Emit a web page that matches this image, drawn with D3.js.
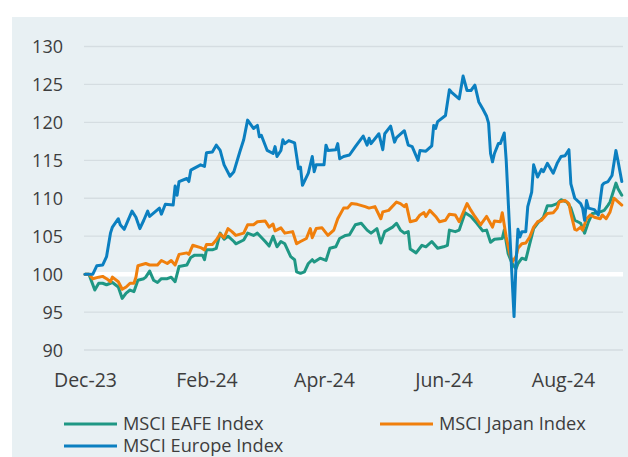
<!DOCTYPE html>
<html>
<head>
<meta charset="utf-8">
<script src="https://cdn.jsdelivr.net/npm/d3@7/dist/d3.min.js"></script>
<style>
  html, body { margin: 0; padding: 0; background: #ffffff; }
  svg { display: block; }
</style>
</head>
<body>
<svg id="chart" width="628" height="457"></svg>
<script>
// ---------------- DATA ----------------
const seriesNames = ["MSCI EAFE Index", "MSCI Japan Index", "MSCI Europe Index"];
const yTicks = [90, 95, 100, 105, 110, 115, 120, 125, 130];
const xTickDates = ["2023-12-29", "2024-02-29", "2024-04-29", "2024-06-29", "2024-08-29"];

const eafeDates = ["2023-12-29","2023-12-31","2024-01-03","2024-01-05","2024-01-07","2024-01-09","2024-01-11","2024-01-12","2024-01-15","2024-01-17","2024-01-19","2024-01-21","2024-01-23","2024-01-25","2024-01-28","2024-01-29","2024-01-31","2024-02-02","2024-02-04","2024-02-06","2024-02-09","2024-02-11","2024-02-13","2024-02-15","2024-02-19","2024-02-21","2024-02-23","2024-02-27","2024-02-28","2024-02-29","2024-03-03","2024-03-05","2024-03-07","2024-03-09","2024-03-11","2024-03-14","2024-03-15","2024-03-19","2024-03-21","2024-03-24","2024-03-26","2024-03-30","2024-04-01","2024-04-03","2024-04-05","2024-04-07","2024-04-09","2024-04-12","2024-04-14","2024-04-15","2024-04-17","2024-04-19","2024-04-21","2024-04-23","2024-04-24","2024-04-27","2024-04-30","2024-05-02","2024-05-05","2024-05-07","2024-05-10","2024-05-12","2024-05-15","2024-05-18","2024-05-21","2024-05-23","2024-05-26","2024-05-28","2024-05-30","2024-06-03","2024-06-05","2024-06-07","2024-06-09","2024-06-11","2024-06-12","2024-06-15","2024-06-18","2024-06-20","2024-06-23","2024-06-26","2024-06-29","2024-07-01","2024-07-02","2024-07-05","2024-07-07","2024-07-10","2024-07-13","2024-07-16","2024-07-19","2024-07-21","2024-07-23","2024-07-25","2024-07-29","2024-07-30","2024-08-01","2024-08-03","2024-08-05","2024-08-06","2024-08-08","2024-08-10","2024-08-12","2024-08-14","2024-08-16","2024-08-19","2024-08-21","2024-08-23","2024-08-26","2024-08-28","2024-08-31","2024-09-02","2024-09-04","2024-09-07","2024-09-09","2024-09-11","2024-09-13","2024-09-16","2024-09-19","2024-09-21","2024-09-22","2024-09-25","2024-09-26","2024-09-28"];
const eafeValues = [100,100,97.9,98.8,98.8,98.6,98.8,98.9,98.3,96.8,97.5,97.9,97.7,99.2,99.4,99.6,100.4,99.2,98.9,99.4,99.4,99.6,99.0,101.0,101.2,102.2,102.5,102.5,101.9,103.2,103.2,103.4,105.4,104.6,105.0,104.3,104.0,104.5,105.4,105.1,105.4,104.3,103.7,105.0,103.6,104.3,104.0,102.3,101.9,100.3,100.1,100.3,101.4,101.9,101.6,102.1,101.8,103.4,103.6,104.7,105.1,105.2,106.5,106.7,105.8,105.4,106.0,104.1,105.6,106.2,106.7,105.8,105.4,105.6,103.3,102.8,103.8,103.6,104.3,103.4,103.6,103.8,105.8,105.6,105.8,108.1,107.6,106.7,105.7,105.8,104.2,104.6,104.7,105.8,102.7,101.4,100.7,101.4,102.1,101.9,104.0,106.0,106.7,107.5,109.0,109.0,109.3,109.8,109.5,108.7,107.1,106.7,105.4,106.9,108.0,108.1,108.4,109.1,109.5,112.0,111.3,110.4];

const japanDates = ["2023-12-29","2023-12-31","2024-01-02","2024-01-05","2024-01-07","2024-01-09","2024-01-11","2024-01-12","2024-01-15","2024-01-17","2024-01-19","2024-01-21","2024-01-23","2024-01-24","2024-01-25","2024-01-29","2024-01-31","2024-02-04","2024-02-06","2024-02-09","2024-02-11","2024-02-13","2024-02-15","2024-02-19","2024-02-20","2024-02-22","2024-02-26","2024-02-28","2024-02-29","2024-03-03","2024-03-05","2024-03-07","2024-03-09","2024-03-11","2024-03-13","2024-03-15","2024-03-19","2024-03-21","2024-03-24","2024-03-26","2024-03-30","2024-04-01","2024-04-03","2024-04-04","2024-04-07","2024-04-09","2024-04-13","2024-04-15","2024-04-17","2024-04-20","2024-04-22","2024-04-23","2024-04-25","2024-04-28","2024-05-01","2024-05-04","2024-05-06","2024-05-09","2024-05-11","2024-05-13","2024-05-16","2024-05-20","2024-05-22","2024-05-25","2024-05-28","2024-05-29","2024-06-01","2024-06-05","2024-06-07","2024-06-09","2024-06-10","2024-06-12","2024-06-15","2024-06-17","2024-06-19","2024-06-20","2024-06-22","2024-06-25","2024-06-27","2024-06-30","2024-07-02","2024-07-05","2024-07-07","2024-07-11","2024-07-13","2024-07-15","2024-07-18","2024-07-19","2024-07-21","2024-07-24","2024-07-25","2024-07-28","2024-07-29","2024-07-31","2024-08-02","2024-08-03","2024-08-05","2024-08-06","2024-08-08","2024-08-10","2024-08-12","2024-08-14","2024-08-16","2024-08-18","2024-08-20","2024-08-21","2024-08-24","2024-08-26","2024-08-27","2024-08-30","2024-09-01","2024-09-02","2024-09-04","2024-09-05","2024-09-07","2024-09-08","2024-09-10","2024-09-12","2024-09-14","2024-09-17","2024-09-18","2024-09-20","2024-09-22","2024-09-24","2024-09-25","2024-09-28"];
const japanValues = [100,100,99.4,99.6,99.7,99.4,99.0,99.6,99.0,98.0,98.3,98.8,98.8,99.6,101.1,101.4,101.2,101.2,101.8,101.4,101.8,101.2,102.6,102.8,102.6,103.8,103.5,103.2,103.9,103.9,104.5,105.3,104.8,106.0,105.6,105.1,105.4,106.5,106.5,106.9,107.0,106.2,106.6,105.7,106.1,105.4,105.6,104.0,104.3,104.7,106.0,104.8,106.0,106.1,105.1,105.8,107.3,108.7,108.7,109.3,109.2,108.9,108.7,108.9,107.3,108.2,108.4,109.5,109.3,108.9,109.2,106.9,107.1,107.8,108.1,107.6,108.4,107.6,106.9,107.1,107.9,107.8,106.9,109.3,108.4,107.6,106.5,106.9,107.6,106.2,107.0,106.9,108.1,104.9,102.5,101.6,102.3,103.4,104.0,104.1,104.9,106.2,106.9,107.1,107.7,108.0,108.1,108.7,109.5,109.7,109.3,108.0,105.9,105.8,106.2,105.8,107.3,107.8,107.5,107.3,107.8,107.3,108.2,110.0,109.8,109.1];

const europeDates = ["2023-12-29","2024-01-02","2024-01-04","2024-01-07","2024-01-09","2024-01-11","2024-01-12","2024-01-15","2024-01-16","2024-01-18","2024-01-22","2024-01-24","2024-01-26","2024-01-28","2024-01-30","2024-01-31","2024-02-05","2024-02-06","2024-02-08","2024-02-12","2024-02-13","2024-02-14","2024-02-15","2024-02-19","2024-02-20","2024-02-21","2024-02-26","2024-02-28","2024-02-29","2024-03-03","2024-03-05","2024-03-07","2024-03-09","2024-03-12","2024-03-14","2024-03-17","2024-03-19","2024-03-21","2024-03-24","2024-03-26","2024-03-27","2024-03-28","2024-03-31","2024-04-03","2024-04-04","2024-04-05","2024-04-07","2024-04-08","2024-04-09","2024-04-11","2024-04-14","2024-04-16","2024-04-17","2024-04-18","2024-04-21","2024-04-23","2024-04-24","2024-04-25","2024-04-29","2024-04-30","2024-05-01","2024-05-05","2024-05-06","2024-05-07","2024-05-09","2024-05-12","2024-05-15","2024-05-19","2024-05-21","2024-05-22","2024-05-23","2024-05-27","2024-05-29","2024-05-30","2024-06-02","2024-06-04","2024-06-05","2024-06-09","2024-06-11","2024-06-13","2024-06-16","2024-06-17","2024-06-20","2024-06-23","2024-06-24","2024-06-25","2024-06-26","2024-06-30","2024-07-02","2024-07-03","2024-07-07","2024-07-09","2024-07-11","2024-07-13","2024-07-15","2024-07-17","2024-07-19","2024-07-21","2024-07-22","2024-07-23","2024-07-24","2024-07-25","2024-07-27","2024-07-28","2024-07-30","2024-07-31","2024-08-02","2024-08-04","2024-08-05","2024-08-06","2024-08-07","2024-08-08","2024-08-10","2024-08-11","2024-08-13","2024-08-14","2024-08-16","2024-08-18","2024-08-19","2024-08-21","2024-08-24","2024-08-26","2024-08-28","2024-08-30","2024-09-01","2024-09-02","2024-09-04","2024-09-07","2024-09-08","2024-09-09","2024-09-10","2024-09-11","2024-09-14","2024-09-16","2024-09-18","2024-09-19","2024-09-21","2024-09-22","2024-09-23","2024-09-25","2024-09-26","2024-09-28"];
const europeValues = [100,100,101.1,101.2,102.3,105.4,106.2,107.3,106.5,105.9,108.3,107.5,106.0,107.1,108.3,107.6,108.7,107.9,109.2,109.1,111.6,110.4,112.2,112.6,112.2,113.7,114.4,114.2,116.0,116.1,117.0,116.3,114.4,112.9,113.5,116.1,117.7,120.3,119.2,119.6,118.1,118.3,116.3,115.9,116.8,115.5,116.3,117.7,117.2,117.6,117.3,113.9,114.1,111.7,113.3,115.5,113.5,114.4,114.4,117.0,116.3,116.4,117.2,115.2,115.5,115.7,116.8,118.2,117.0,117.9,117.2,118.5,116.4,118.5,119.5,117.4,118.0,118.9,117.0,116.8,115.0,116.3,116.2,116.9,119.6,119.2,120.1,120.9,124.3,124.0,123.1,126.1,124.2,124.2,124.9,122.7,121.8,120.8,119.9,115.9,114.8,115.9,117.2,117.2,118.6,115.0,104.5,94.4,101.4,105.9,104.9,105.6,105.6,108.9,110.8,114.4,112.8,113.8,113.5,114.6,113.3,114.6,115.5,115.6,116.4,111.9,110.0,109.3,108.7,107.1,109.7,108.7,108.5,107.8,111.7,112.0,112.2,112.6,113.0,116.3,115.0,112.2];

const seriesColors = ["#1f9784", "#f07f0c", "#0b7fc0"];

// ---------------- CHART ----------------
const svg = d3.select("#chart");
const W = 628, H = 457;
const parse = d3.timeParse("%Y-%m-%d");
const fmt = d3.timeFormat("%b-%y");
const textColor = "#3d3d3d";

// background panel
svg.append("rect").attr("x", 12).attr("y", 17).attr("width", W - 12).attr("height", H - 17)
  .attr("fill", "#e8f0f3");

const x = d3.scaleTime()
  .domain([parse("2023-12-29"), parse("2024-09-28")])
  .range([85, 621.8]);
const y = d3.scaleLinear().domain([90, 130]).range([350, 46.5]);

const gridX0 = 84, gridX1 = 623;

// gridlines
svg.append("g").selectAll("line").data(yTicks.filter(v => v !== 100)).join("line")
  .attr("x1", gridX0).attr("x2", gridX1)
  .attr("y1", d => y(d)).attr("y2", d => y(d))
  .attr("stroke", "#d5dde1").attr("stroke-width", 1.3);
// baseline 100 (white)
svg.append("line").attr("x1", gridX0).attr("x2", gridX1)
  .attr("y1", y(100)).attr("y2", y(100))
  .attr("stroke", "#ffffff").attr("stroke-width", 4.5);

// y axis labels
const yAxis = d3.axisLeft(y).tickValues(yTicks).tickSize(0).tickPadding(0);
const gy = svg.append("g").attr("transform", "translate(63,0)").call(yAxis);
gy.select(".domain").remove();
gy.selectAll("text").attr("font-family", "'Open Sans', sans-serif").attr("font-size", 18)
  .attr("fill", textColor).attr("dy", "0.36em");

// x axis labels
const xAxis = d3.axisBottom(x).tickValues(xTickDates.map(parse)).tickFormat(fmt).tickSize(0).tickPadding(0);
const gx = svg.append("g").attr("transform", "translate(0,373)").call(xAxis);
gx.select(".domain").remove();
gx.selectAll("text").attr("font-family", "'Open Sans', sans-serif").attr("font-size", 19.5)
  .attr("fill", textColor).attr("dy", "0.71em");

// lines
const line = d3.line().x(d => x(d[0])).y(d => y(d[1])).curve(d3.curveLinear);
const allSeries = [
  d3.zip(eafeDates.map(parse), eafeValues),
  d3.zip(japanDates.map(parse), japanValues),
  d3.zip(europeDates.map(parse), europeValues)
];
svg.append("g").selectAll("path").data(allSeries).join("path")
  .attr("d", line)
  .attr("fill", "none")
  .attr("stroke", (d, i) => seriesColors[i])
  .attr("stroke-width", 3)
  .attr("stroke-linejoin", "round")
  .attr("stroke-linecap", "round");

// legend
const legendPos = [[64, 424], [380, 424], [64, 446]];
const lg = svg.append("g").selectAll("g").data(seriesNames).join("g")
  .attr("transform", (d, i) => `translate(${legendPos[i][0]},${legendPos[i][1]})`);
lg.append("line").attr("x1", 0).attr("x2", 53).attr("y1", 0).attr("y2", 0)
  .attr("stroke", (d, i) => seriesColors[i]).attr("stroke-width", 3);
lg.append("text").attr("x", 59).attr("y", 0).attr("dy", "0.35em")
  .attr("font-family", "'Open Sans', sans-serif").attr("font-size", 18.2)
  .attr("fill", textColor).text(d => d);
</script>
</body>
</html>
